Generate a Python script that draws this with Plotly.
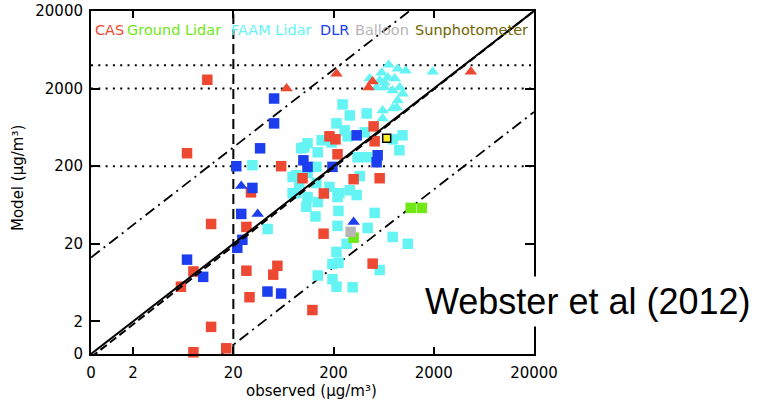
import plotly.graph_objects as go

# ---- data (µg/m3): observed vs model ----
AXIS_ZERO = 0.76  # lower edge of both log axes, labelled "0"

cas_sq_obs = [11, 6.9, 12, 8.0, 6.0, 12, 8.0, 17, 30, 27, 27, 29, 60, 98, 160, 219, 182, 209,
              317, 502, 514, 577, 159, 55, 50, 123, 491]
cas_sq_mod = [2600, 294, 36, 8.8, 5.6, 1.7, 0.8, 0.9, 92, 33, 9.0, 4.1, 200, 140, 89, 285, 485, 444,
              136, 652, 419, 140, 27, 10.4, 8.0, 2.8, 11.1]
cas_tri_obs = [68, 214, 490, 447, 4690]
cas_tri_mod = [2000, 3110, 2460, 2060, 3300]

faam_sq_obs = [31, 246, 290, 428, 214, 258, 110, 139, 95, 191, 276, 409, 976, 908, 778, 85, 135, 135,
               347, 428, 365, 290, 182, 229, 340, 78, 91, 110, 85, 110, 139, 219, 107, 132, 224, 44,
               219, 438, 514, 778, 1100, 270, 214, 195, 224, 139, 195, 214, 310, 577, 78, 102, 152]
faam_sq_mod = [206, 1250, 902, 957, 712, 579, 394, 302, 340, 405, 485, 546, 500, 321, 444, 153, 196, 121,
               261, 261, 149, 98, 108, 90, 85, 90, 121, 163, 90, 80, 69, 80, 60, 45, 53, 31,
               34, 32, 50, 24.5, 20, 20, 15.7, 11.0, 11.4, 7.8, 7.0, 5.6, 5.5, 9.2, 145, 350, 432]
faam_tri_obs = [709, 873, 1050, 1950, 602, 458, 577, 693, 815, 538, 647, 778, 914, 980, 873, 853,
                618, 618, 647, 778]
faam_tri_mod = [4060, 3610, 3400, 3300, 3210, 2690, 2540, 2770, 2690, 2060, 2060, 1890, 2060, 1720, 1400, 1140,
                1045, 825, 2380, 1110]

dlr_sq_obs = [21.4, 37, 51, 51, 100, 110, 195, 340, 551, 538, 31, 24, 24.6, 21.9, 6.9, 10.0, 43.8, 60]
dlr_sq_mod = [200, 340, 1490, 712, 238, 196, 196, 500, 277, 225, 105, 48.5, 22.5, 17.8, 12.5, 7.5, 4.85, 4.57]
dlr_tri_obs = [24, 35, 317]
dlr_tri_mod = [111, 48.5, 38.3]

ground_obs = [1178, 1517, 317]
ground_mod = [58, 58, 24]
balloon_obs = [296]
balloon_mod = [28.5]
sun_obs = [678]
sun_mod = [457]

# reference lines
one_to_one_x = [AXIS_ZERO, 20000]
one_to_one_y = [AXIS_ZERO, 20000]
fit_x = [AXIS_ZERO, 20000]
fit_y = [0.69, 20000]
upper_x = [AXIS_ZERO, 1143]
upper_y = [13.3, 20000]
lower_x = [15.2, 20000]
lower_y = [AXIS_ZERO, 1000]
threshold_obs = 20
model_levels = [200, 2000, 4000]

tick_vals = [AXIS_ZERO, 2, 20, 200, 2000, 20000]
tick_text = ["0", "2", "20", "200", "2000", "20000"]

RED = "rgb(236,72,50)"
CYAN = "rgb(100,244,244)"
BLUE = "rgb(28,62,238)"
GREEN = "rgb(112,232,22)"
GREY = "rgb(182,182,182)"
YELLOW = "rgb(250,238,40)"

fig = go.Figure()

def line(x, y, dash, width=2):
    fig.add_trace(go.Scatter(x=x, y=y, mode="lines", hoverinfo="skip",
                             line=dict(color="black", width=width, dash=dash)))

for lvl in model_levels:
    line([AXIS_ZERO, 20000], [lvl, lvl], "2px,5.3px", 2)
line([threshold_obs, threshold_obs], [AXIS_ZERO, 20000], "10px,5px", 2)
line(upper_x, upper_y, "11px,5px,2px,5px", 1.8)
line(lower_x, lower_y, "11px,5px,2px,5px", 1.8)

def pts(x, y, color, symbol, size=10, line_color=None):
    fig.add_trace(go.Scatter(
        x=x, y=y, mode="markers", cliponaxis=False,
        marker=dict(color=color, symbol=symbol, size=size,
                    line=dict(color=line_color or color, width=1.5 if line_color else 0))))

pts(faam_sq_obs, faam_sq_mod, CYAN, "square", 10.5)
pts(faam_tri_obs, faam_tri_mod, CYAN, "triangle-up", 11)
pts(cas_sq_obs, cas_sq_mod, RED, "square", 10.5)
pts(cas_tri_obs, cas_tri_mod, RED, "triangle-up", 11)
pts(dlr_sq_obs, dlr_sq_mod, BLUE, "square", 10.5)
pts(dlr_tri_obs, dlr_tri_mod, BLUE, "triangle-up", 11)
pts(ground_obs, ground_mod, GREEN, "square", 10.5)
pts(balloon_obs, balloon_mod, GREY, "square", 10.5)
pts(sun_obs, sun_mod, YELLOW, "square", 8, "black")

line(one_to_one_x, one_to_one_y, None, 2)
line(fit_x, fit_y, "8px,4px", 2)

# plot area in pixels: x 91..534, y 11..354
L, R, T, B = 91, 534, 11, 354
W, H = 765, 400

def px(xp):
    return (xp - L) / (R - L)

def py(yp):
    return (B - yp) / (B - T)

labels = [("CAS", RED, 93), ("Ground Lidar", GREEN, 125), ("FAAM Lidar", CYAN, 229),
          ("DLR", BLUE, 318), ("Balloon", GREY, 353), ("Sunphotometer", "rgb(110,100,0)", 413)]
annotations = []
for text, color, xp in labels:
    annotations.append(dict(text=text, x=px(xp), y=py(30), xref="paper", yref="paper",
                            xanchor="left", yanchor="middle", showarrow=False,
                            font=dict(family="DejaVu Sans", size=14.5, color=color)))

annotations.append(dict(text="Model (\u03bcg/m\u00b3)", x=px(18), y=py(178), xref="paper", yref="paper",
                        textangle=-90, showarrow=False, xanchor="center", yanchor="middle",
                        font=dict(family="DejaVu Sans", size=15, color="black")))
annotations.append(dict(text="observed (\u03bcg/m\u00b3)", x=px(311), y=py(391), xref="paper", yref="paper",
                        showarrow=False, xanchor="center", yanchor="middle",
                        font=dict(family="DejaVu Sans", size=15, color="black")))
annotations.append(dict(text="Webster et al (2012)", x=px(588), y=py(301), xref="paper", yref="paper",
                        showarrow=False, xanchor="center", yanchor="middle", bgcolor="white",
                        borderpad=4,
                        font=dict(family="Liberation Sans, Arial", size=36, color="black")))

axis_common = dict(type="log", tickmode="array", tickvals=tick_vals, ticktext=tick_text,
                   range=[-0.1192, 4.30103], showgrid=False, zeroline=False, automargin=False,
                   showline=True, linecolor="black", linewidth=2, mirror="allticks",
                   ticks="inside", tickcolor="black", tickwidth=2,
                   tickfont=dict(family="DejaVu Sans", size=15, color="black"))

fig.update_layout(
    width=W, height=H, showlegend=False,
    margin=dict(l=L, r=W - R, t=T, b=H - B),
    paper_bgcolor="white", plot_bgcolor="white",
    xaxis=dict(axis_common, ticklen=7, ticklabelstandoff=4),
    yaxis=dict(axis_common, ticklen=9, ticklabelstandoff=3),
    annotations=annotations,
)

fig.write_html("out.html")
